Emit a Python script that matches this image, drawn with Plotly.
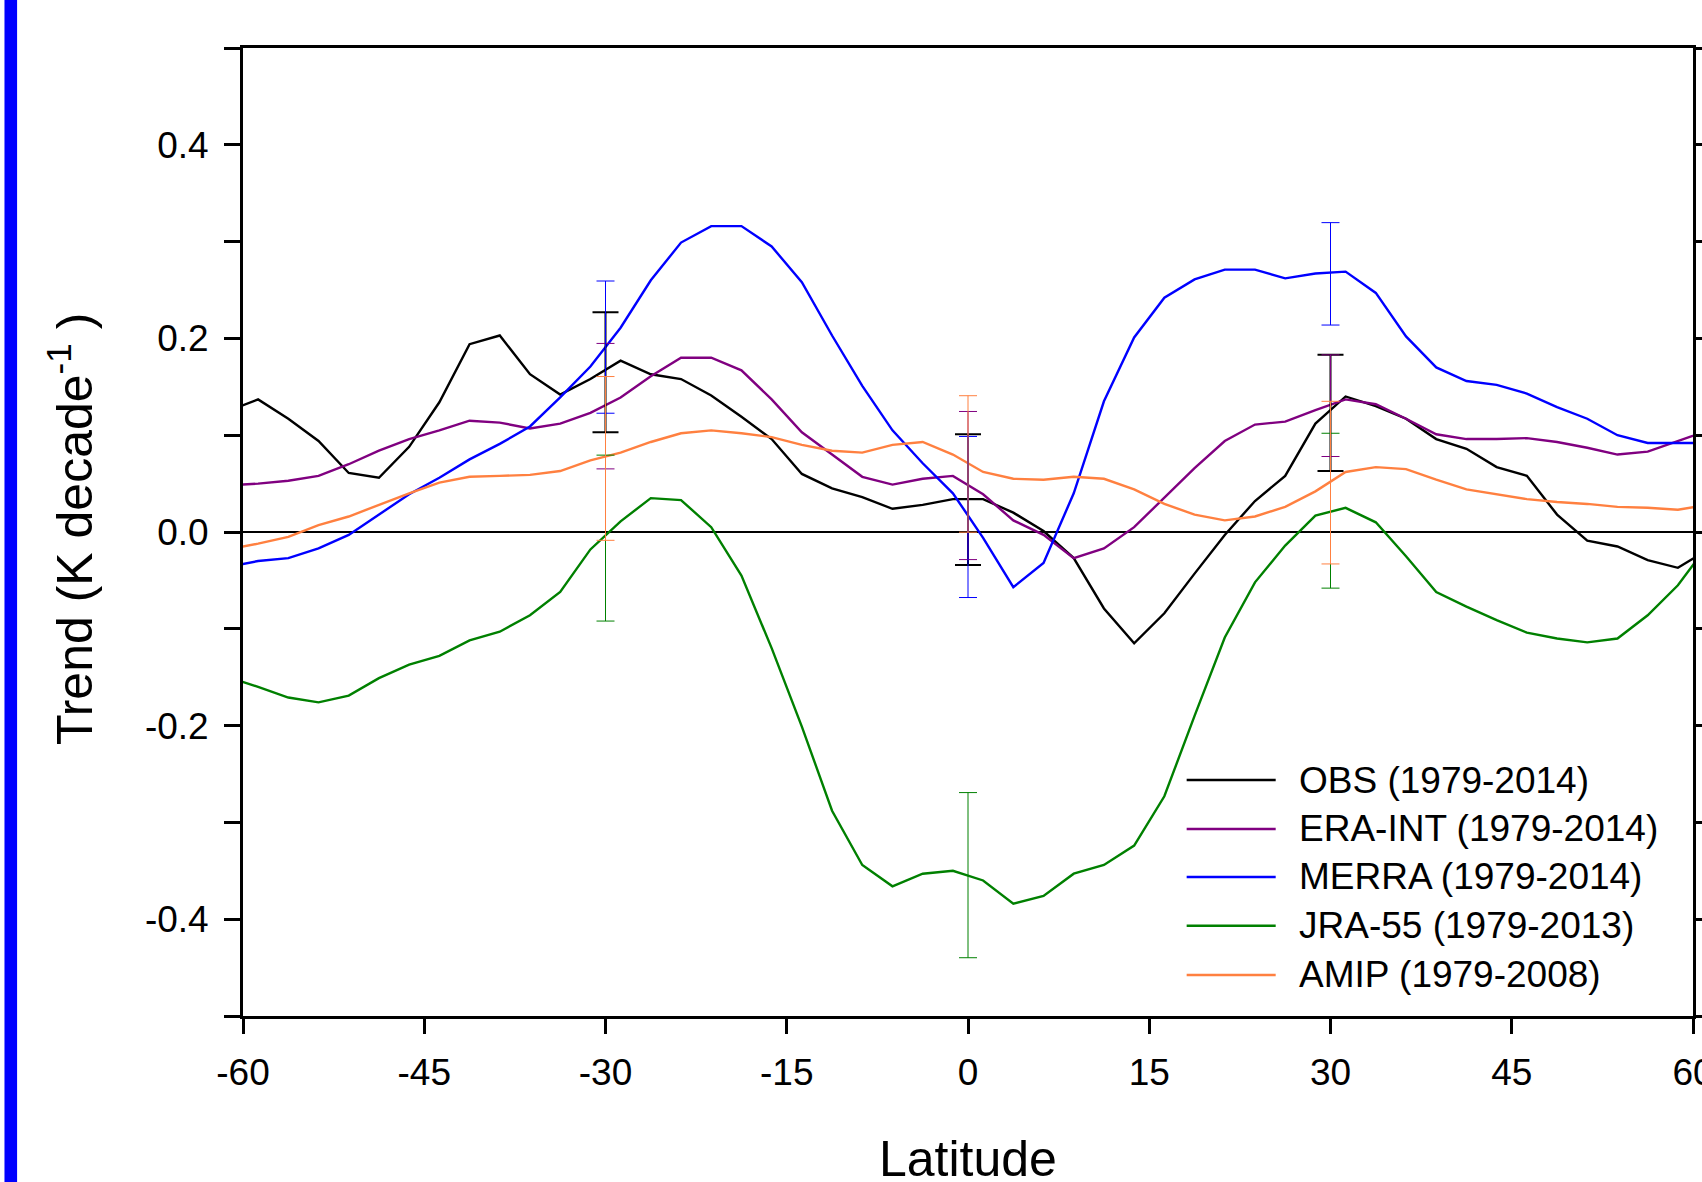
import plotly.graph_objects as go

# ---------------- data ----------------
lat = [-61.25, -58.75, -56.25, -53.75, -51.25, -48.75, -46.25, -43.75, -41.25, -38.75,
       -36.25, -33.75, -31.25, -28.75, -26.25, -23.75, -21.25, -18.75, -16.25, -13.75,
       -11.25, -8.75, -6.25, -3.75, -1.25, 1.25, 3.75, 6.25, 8.75, 11.25,
       13.75, 16.25, 18.75, 21.25, 23.75, 26.25, 28.75, 31.25, 33.75, 36.25,
       38.75, 41.25, 43.75, 46.25, 48.75, 51.25, 53.75, 56.25, 58.75, 61.25]

obs = [0.125, 0.137, 0.117, 0.094, 0.061, 0.056, 0.088, 0.134, 0.194, 0.203,
       0.163, 0.142, 0.158, 0.177, 0.163, 0.158, 0.141, 0.119, 0.096, 0.060,
       0.045, 0.036, 0.024, 0.028, 0.034, 0.034, 0.020, 0.001, -0.027, -0.079,
       -0.115, -0.084, -0.043, -0.003, 0.032, 0.058, 0.112, 0.140, 0.130, 0.117,
       0.096, 0.086, 0.067, 0.058, 0.018, -0.009, -0.015, -0.029, -0.037, -0.018]

era = [0.048, 0.050, 0.053, 0.058, 0.070, 0.084, 0.096, 0.105, 0.115, 0.113,
       0.107, 0.112, 0.123, 0.139, 0.161, 0.180, 0.180, 0.167, 0.137, 0.103,
       0.080, 0.057, 0.049, 0.055, 0.058, 0.039, 0.012, -0.003, -0.027, -0.017,
       0.005, 0.036, 0.066, 0.094, 0.111, 0.114, 0.126, 0.137, 0.132, 0.117,
       0.101, 0.096, 0.096, 0.097, 0.093, 0.087, 0.080, 0.083, 0.094, 0.105]

merra = [-0.036, -0.030, -0.027, -0.017, -0.003, 0.018, 0.039, 0.056, 0.075, 0.091,
         0.109, 0.139, 0.171, 0.211, 0.260, 0.299, 0.316, 0.316, 0.295, 0.258,
         0.203, 0.151, 0.105, 0.071, 0.040, -0.006, -0.057, -0.032, 0.040, 0.135,
         0.201, 0.242, 0.261, 0.271, 0.271, 0.262, 0.267, 0.269, 0.247, 0.202,
         0.170, 0.156, 0.152, 0.143, 0.129, 0.117, 0.100, 0.092, 0.092, 0.092]

jra = [-0.150, -0.160, -0.171, -0.176, -0.169, -0.151, -0.137, -0.128, -0.112, -0.103,
       -0.086, -0.062, -0.018, 0.011, 0.035, 0.033, 0.005, -0.045, -0.120, -0.201,
       -0.288, -0.344, -0.366, -0.353, -0.350, -0.360, -0.384, -0.376, -0.353, -0.344,
       -0.324, -0.273, -0.190, -0.109, -0.052, -0.014, 0.017, 0.025, 0.010, -0.025,
       -0.062, -0.077, -0.091, -0.104, -0.110, -0.114, -0.110, -0.086, -0.055, -0.013]

amip = [-0.018, -0.012, -0.005, 0.007, 0.016, 0.028, 0.040, 0.051, 0.057, 0.058,
        0.059, 0.063, 0.074, 0.082, 0.093, 0.102, 0.105, 0.102, 0.098, 0.090,
        0.084, 0.082, 0.090, 0.093, 0.080, 0.062, 0.055, 0.054, 0.057, 0.055,
        0.044, 0.029, 0.018, 0.012, 0.016, 0.026, 0.042, 0.062, 0.067, 0.065,
        0.054, 0.044, 0.039, 0.034, 0.031, 0.029, 0.026, 0.025, 0.023, 0.028]

# error bars at selected latitudes (centre, half-width)
err_lat = [-30, 0, 30]
obs_c = [0.165, 0.0335, 0.123];   obs_e = [0.062, 0.0676, 0.060]
era_c = [0.130, 0.048, 0.1305];   era_e = [0.0648, 0.0765, 0.0525]
merra_c = [0.191, 0.0155, 0.2667]; merra_e = [0.0683, 0.0832, 0.0529]
jra_c = [-0.0063, -0.3545, 0.022]; jra_e = [0.0857, 0.0853, 0.080]
amip_c = [0.076, 0.0703, 0.051];  amip_e = [0.0846, 0.0705, 0.084]

names = ["OBS (1979-2014)", "ERA-INT (1979-2014)", "MERRA (1979-2014)",
         "JRA-55 (1979-2013)", "AMIP (1979-2008)"]
colors = ["#000000", "#800080", "#0000FF", "#008000", "#FF8040"]

x_ticks = [-60, -45, -30, -15, 0, 15, 30, 45, 60]
x_ticktext = ["-60", "-45", "-30", "-15", "0", "15", "30", "45", "60"]
y_ticks = [-0.4, -0.2, 0.0, 0.2, 0.4]
y_ticktext = ["-0.4", "-0.2", "0.0", "0.2", "0.4"]
y_minor = [-0.5, -0.3, -0.1, 0.1, 0.3, 0.5]

FONT = "Liberation Sans, Arial, sans-serif"

# ---------------- figure ----------------
fig = go.Figure()
series = [obs, era, merra, jra, amip]
for s, n, c in zip(series, names, colors):
    fig.add_trace(go.Scatter(x=lat, y=s, mode="lines", name=n,
                             line=dict(color=c, width=2.4), showlegend=False))

err_sets = [(obs_c, obs_e), (era_c, era_e), (merra_c, merra_e), (jra_c, jra_e), (amip_c, amip_e)]
for i, ((cc, ee), c) in enumerate(zip(err_sets, colors)):
    fig.add_trace(go.Scatter(
        x=err_lat, y=cc, mode="markers", showlegend=False, hoverinfo="skip",
        marker=dict(size=1, color="rgba(0,0,0,0)"),
        error_y=dict(type="data", array=ee, visible=True, color=c,
                     thickness=2 if i == 0 else 1, width=13 if i == 0 else 9)))

# manual legend (long line samples as in the original)
leg_x0, leg_x1, leg_tx = 0.6508, 0.7122, 0.7267
leg_y = [0.2438, 0.1932, 0.1436, 0.0933, 0.0424]
shapes = []
annotations = []
for n, c, yy in zip(names, colors, leg_y):
    shapes.append(dict(type="line", xref="paper", yref="paper", x0=leg_x0, x1=leg_x1,
                       y0=yy, y1=yy, line=dict(color=c, width=2.4)))
    annotations.append(dict(xref="paper", yref="paper", x=leg_tx, y=yy, text=n,
                            showarrow=False, xanchor="left", yanchor="middle",
                            font=dict(family=FONT, size=37, color="black")))

# blue bar at the left edge
shapes.append(dict(type="rect", xref="paper", yref="paper", x0=-0.1645, x1=-0.1558,
                   y0=-0.3, y1=1.2, fillcolor="#0000FF", line=dict(width=0), layer="above"))

annotations.append(dict(xref="paper", yref="paper", x=0.5, y=-0.1475, text="Latitude",
                        showarrow=False, xanchor="center", yanchor="middle",
                        font=dict(family=FONT, size=50, color="black")))
annotations.append(dict(xref="paper", yref="paper", x=-0.1187, y=0.503,
                        text="Trend (K decade<sup>-1</sup> )", textangle=-90,
                        showarrow=False, xanchor="center", yanchor="middle",
                        font=dict(family=FONT, size=50, color="black")))

fig.update_layout(
    width=1702, height=1182,
    margin=dict(l=243, r=9, t=48, b=166, pad=0, autoexpand=False),
    paper_bgcolor="white", plot_bgcolor="white",
    font=dict(family=FONT, size=37, color="black"),
    shapes=shapes, annotations=annotations, showlegend=False,
)
fig.update_xaxes(range=[-60, 60], tickvals=x_ticks, ticktext=x_ticktext, ticks="outside",
                 ticklen=15, tickwidth=2.5, tickcolor="black", showline=True,
                 linecolor="black", linewidth=2.8, mirror=True, showgrid=False,
                 zeroline=False, automargin=False, ticklabeloverflow="allow",
                 tickfont=dict(family=FONT, size=37, color="black"),
                 ticklabelstandoff=7)
fig.update_yaxes(range=[-0.5, 0.5], tickvals=y_ticks, ticktext=y_ticktext, ticks="outside",
                 ticklen=16, tickwidth=2.5, tickcolor="black", showline=True,
                 linecolor="black", linewidth=2.8, mirror="ticks", showgrid=False,
                 zeroline=True, zerolinecolor="black", zerolinewidth=2, automargin=False,
                 minor=dict(tickvals=y_minor, ticks="outside", ticklen=16, tickwidth=2.5,
                            tickcolor="black", showgrid=False),
                 tickfont=dict(family=FONT, size=37, color="black"), ticklabelstandoff=8)

fig.write_html("out.html", config={"displayModeBar": False},
               post_script="document.body.style.margin='0';"
                           "document.body.style.overflow='hidden';")
